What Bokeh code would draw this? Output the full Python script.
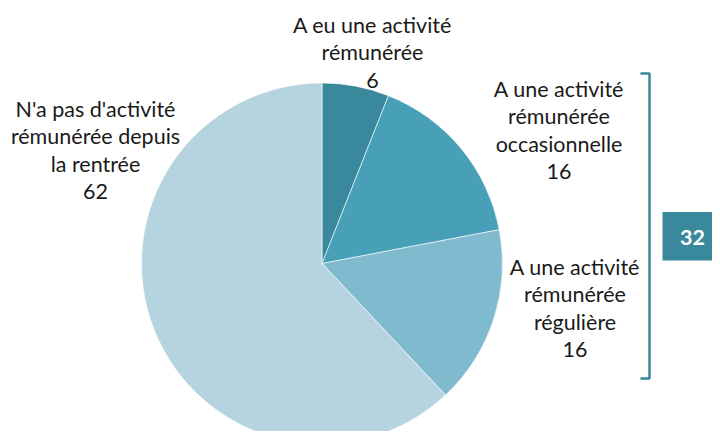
import math
from bokeh.plotting import figure
from bokeh.models import Range1d, ColumnDataSource
from bokeh.core.properties import value
from bokeh.embed import file_html
from bokeh.resources import INLINE

# ---- data ----
categories = [
    "A eu une activité\nrémunérée",
    "A une activité\nrémunérée\noccasionnelle",
    "A une activité\nrémunérée\nrégulière",
    "N'a pas d'activité\nrémunérée depuis\nla rentrée",
]
values = [6, 16, 16, 62]
colors = ["#3A889B", "#47A0B8", "#7FBACE", "#B6D4DF"]
bracket_members = [1, 2]  # indices grouped by the bracket

# ---- layout (figure pixel coords) ----
W, H = 712, 431
def sy(y):  # pixel y (from top) -> data y
    return H - y

FONT = "Lato"
FS = "21.5px"
TEAL = "#3A889B"

p = figure(width=W, height=H, output_backend="svg", toolbar_location=None,
           x_range=Range1d(0, W), y_range=Range1d(0, H),
           min_border=0)
p.axis.visible = False
p.grid.visible = False
p.outline_line_color = None
p.background_fill_color = "white"

# pie
cx, cy, r = 321.5, 263, 180.5
total = sum(values)
starts, ends = [], []
cum = 0
for v in values:
    starts.append(math.pi / 2 - 2 * math.pi * cum / total)
    cum += v
    ends.append(math.pi / 2 - 2 * math.pi * cum / total)
src = ColumnDataSource(dict(start=starts, end=ends, color=colors))
p.wedge(x=cx, y=sy(cy), radius=r, radius_units="screen",
        start_angle="start", end_angle="end", direction="clock",
        fill_color="color", line_color="white", line_width=0.6, source=src)

# labels: (center x, first line center y)
label_pos = [(372, 24), (558.5, 88), (574.5, 266), (95, 108)]
LH = 27.8
for cat, v, (lx, ly) in zip(categories, values, label_pos):
    lines = cat.split("\n") + [str(v)]
    xs = [lx] * len(lines)
    ys = [sy(ly + i * LH) for i in range(len(lines))]
    p.text(x=xs, y=ys, text=lines, text_align="center", text_baseline="middle",
           text_font=value(FONT), text_font_size=FS, text_color="#1a1a1a")

# bracket
bx, btop, bbot, btick = 649, 73, 378, 640
p.line(x=[btick, bx, bx, btick], y=[sy(btop), sy(btop), sy(bbot), sy(bbot)],
       line_color=TEAL, line_width=2.5)

# total box
group_total = sum(values[i] for i in bracket_members)
p.quad(left=662, right=722, top=sy(211.5), bottom=sy(260), fill_color=TEAL,
       line_color=None)
p.text(x=[692], y=[sy(237)], text=[str(group_total)], text_align="center",
       text_baseline="middle", text_font=value(FONT), text_font_size=FS,
       text_font_style="bold", text_color="white")

open("out.html", "w").write(file_html(p, INLINE))
